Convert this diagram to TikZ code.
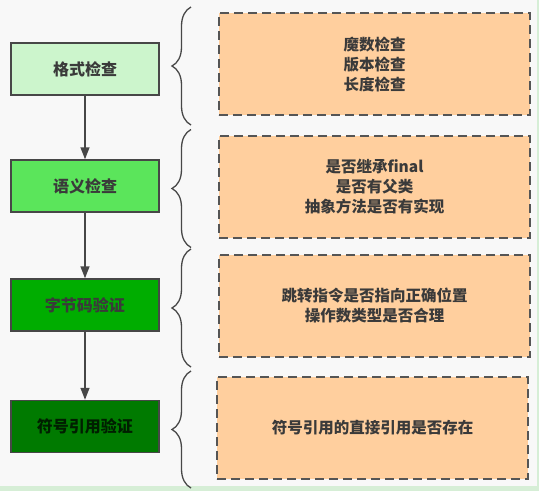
\documentclass[tikz,border=0pt]{standalone}
\usepackage{fontspec}
\newfontfamily\cjk{Noto Sans CJK SC}
\usetikzlibrary{calc}
\usetikzlibrary{positioning}
\usetikzlibrary{arrows.meta}
\usetikzlibrary{decorations.pathreplacing}

\definecolor{bgwhite}{HTML}{F8F8F8}
\definecolor{framegreen}{HTML}{D6EED6}
\definecolor{linegray}{HTML}{474747}
\definecolor{dashgray}{HTML}{555555}
\definecolor{textgray}{HTML}{3A3A3A}
\definecolor{peach}{HTML}{FFCF9E}
\definecolor{greenA}{HTML}{CCF5CC}
\definecolor{greenB}{HTML}{5BE55B}
\definecolor{greenC}{HTML}{00AD00}
\definecolor{greenD}{HTML}{007A00}

\begin{document}
\begin{tikzpicture}[x=1pt, y=-1pt]
    \tikzstyle{check}=[draw=linegray, line width=1.5pt, minimum width=148pt, minimum height=52pt, text=textgray, font=\cjk\bfseries\fontsize{16}{20}\selectfont]
    \tikzstyle{detail}=[draw=dashgray, dash pattern=on 9pt off 5pt, line width=2pt, fill=peach, minimum width=311pt, minimum height=102pt, align=center, text=textgray, font=\cjk\bfseries\fontsize{15.5}{20}\selectfont]
    \tikzstyle{flow}=[draw=linegray, line width=1.5pt, -{Triangle[length=12pt, width=9pt]}]
    \tikzstyle{bracket}=[draw=linegray, line width=1.3pt, decorate, decoration={brace, amplitude=19pt}]

    \fill[framegreen] (0,0) rectangle (539,491);
    \fill[bgwhite] (0,0) rectangle (537,486);

    \node[check, fill=greenA] (c1) at (85, 69) {格式检查};
    \node[check, fill=greenB] (c2) at (85, 186) {语义检查};
    \node[check, fill=greenC] (c3) at (85, 305) {字节码验证};
    \node[check, fill=greenD, text=black!75!greenD] (c4) at (85, 426.5) {符号引用验证};

    \draw[flow] (c1) -- (c2);
    \draw[flow] (c2) -- (c3);
    \draw[flow] (c3) -- (c4);

    \node[detail] (d1) at (374.5, 64) {魔数检查\\版本检查\\长度检查};
    \node[detail] (d2) at (374.5, 186.5) {是否继承final\\是否有父类\\抽象方法是否有实现};
    \node[detail] (d3) at (374.5, 306) {跳转指令是否指向正确位置\\操作数类型是否合理};
    \node[detail] (d4) at (372.5, 428) {符号引用的直接引用是否存在};

    \coordinate (t1) at ($(d1.north west)+(-27,-5)$);
    \coordinate (b1) at ($(d1.south west)+(-27,9)$);
    \coordinate (t2) at ($(d2.north west)+(-27,-5)$);
    \coordinate (b2) at ($(d2.south west)+(-27,9)$);
    \coordinate (t3) at ($(d3.north west)+(-27,-5)$);
    \coordinate (b3) at ($(d3.south west)+(-27,9)$);
    \coordinate (t4) at ($(d4.north west)+(-25,-5)$);
    \coordinate (b4) at ($(d4.south west)+(-25,8)$);

    \draw[bracket] (b1) -- (t1);
    \draw[bracket] (b2) -- (t2);
    \draw[bracket] (b3) -- (t3);
    \draw[bracket] (b4) -- (t4);
\end{tikzpicture}
\end{document}
